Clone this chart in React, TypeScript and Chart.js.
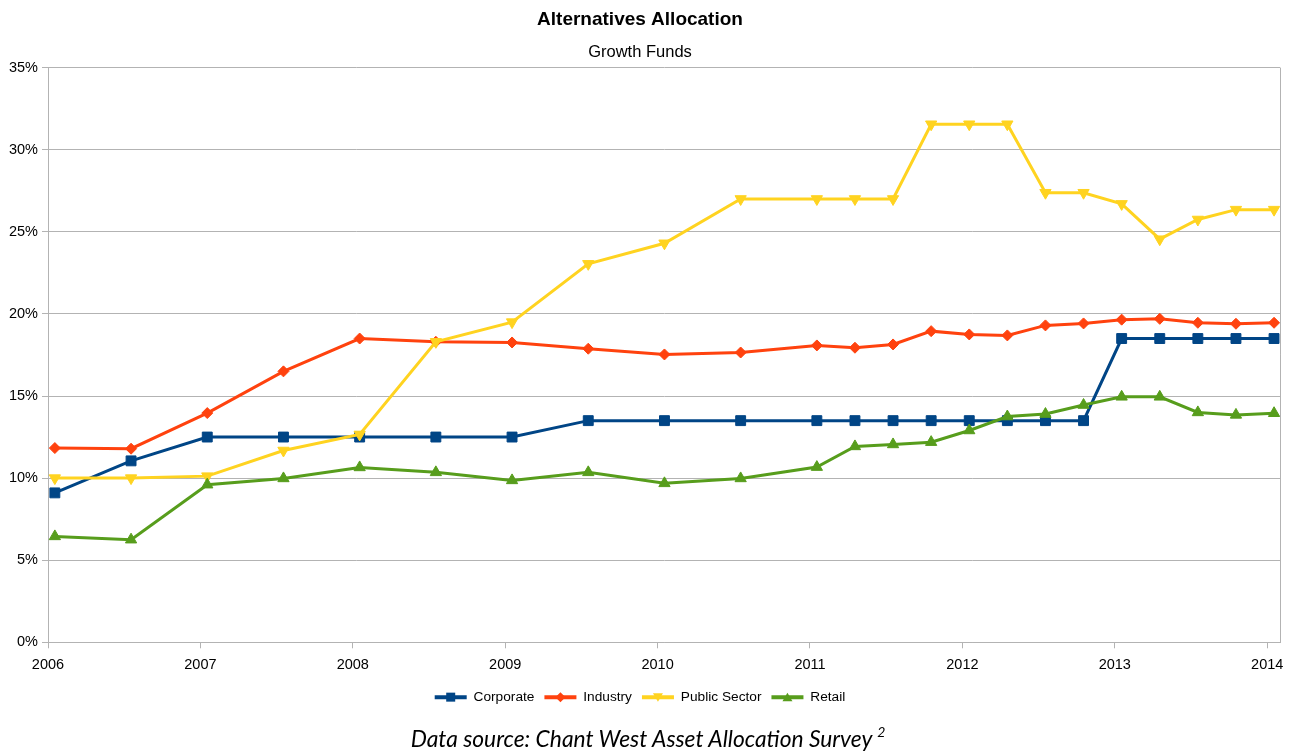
import React, { useEffect, useRef } from 'react';
import { Chart, registerables } from 'chart.js';

Chart.register(...registerables);

const seriesNames = ['Corporate', 'Industry', 'Public Sector', 'Retail'];
const seriesColors = ['#004586', '#ff420e', '#ffd320', '#579d1c'];
const yearTicks = [2006, 2007, 2008, 2009, 2010, 2011, 2012, 2013, 2014];

const surveyDates = [
  2006.045, 2006.545, 2007.045, 2007.545, 2008.045, 2008.545, 2009.045, 2009.545,
  2010.045, 2010.545, 2011.045, 2011.295, 2011.545, 2011.795, 2012.045, 2012.295,
  2012.545, 2012.795, 2013.045, 2013.295, 2013.545, 2013.795, 2014.045,
];
const corporate = [
  9.1, 11.05, 12.5, 12.5, 12.5, 12.5, 12.5, 13.5, 13.5, 13.5, 13.5, 13.5,
  13.5, 13.5, 13.5, 13.5, 13.5, 13.5, 18.5, 18.5, 18.5, 18.5, 18.5,
];
const industry = [
  11.83, 11.79, 13.96, 16.5, 18.5, 18.3, 18.26, 17.88, 17.53, 17.65, 18.08, 17.94,
  18.14, 18.95, 18.75, 18.69, 19.3, 19.42, 19.65, 19.7, 19.46, 19.4, 19.46,
];
const publicSector = [
  10.0, 10.0, 10.12, 11.68, 12.66, 18.3, 19.5, 23.05, 24.3, 27.0, 27.0, 27.0,
  27.0, 31.55, 31.55, 31.55, 27.38, 27.38, 26.7, 24.55, 25.75, 26.35, 26.35,
];
const retail = [
  6.45, 6.25, 9.6, 9.98, 10.65, 10.35, 9.86, 10.35, 9.68, 9.98, 10.67, 11.93,
  12.05, 12.19, 12.9, 13.75, 13.9, 14.45, 14.95, 14.95, 14.0, 13.85, 13.95,
];

const FONT = "'Liberation Sans', Arial, sans-serif";
const GRID = '#b3b3b3';
const LEGEND_BOX_W = 32;

function drawMarker(ctx: CanvasRenderingContext2D, kind: number, x: number, y: number, color: string) {
  ctx.save();
  ctx.fillStyle = color;
  ctx.beginPath();
  if (kind === 0) {
    ctx.rect(x - 4.5, y - 4.5, 9, 9);
  } else if (kind === 1) {
    ctx.moveTo(x, y - 5);
    ctx.lineTo(x + 5, y);
    ctx.lineTo(x, y + 5);
    ctx.lineTo(x - 5, y);
    ctx.closePath();
  } else if (kind === 2) {
    ctx.moveTo(x - 5, y - 4);
    ctx.lineTo(x + 5, y - 4);
    ctx.lineTo(x, y + 4.5);
    ctx.closePath();
  } else {
    ctx.moveTo(x - 5, y + 4);
    ctx.lineTo(x + 5, y + 4);
    ctx.lineTo(x, y - 4.5);
    ctx.closePath();
  }
  ctx.fill();
  ctx.restore();
}

const frameAndLegendPlugin = {
  id: 'frameAndLegend',
  beforeDatasetsDraw(chart: any) {
    const { ctx, chartArea } = chart;
    ctx.save();
    ctx.strokeStyle = GRID;
    ctx.lineWidth = 1;
    ctx.beginPath();
    ctx.moveTo(Math.round(chartArea.right) + 0.5, chartArea.top);
    ctx.lineTo(Math.round(chartArea.right) + 0.5, chartArea.bottom);
    ctx.stroke();
    ctx.restore();
  },
  afterDraw(chart: any) {
    const legend = chart.legend;
    if (!legend || !legend.legendHitBoxes || !legend.legendItems) return;
    legend.legendItems.forEach((item: any, i: number) => {
      const hb = legend.legendHitBoxes[i];
      if (!hb) return;
      const idx = item.datasetIndex;
      drawMarker(chart.ctx, idx, hb.left + LEGEND_BOX_W / 2, hb.top + hb.height / 2, seriesColors[idx]);
    });
  },
};

export default function App() {
  const canvasRef = useRef<HTMLCanvasElement | null>(null);

  useEffect(() => {
    const canvas = canvasRef.current;
    if (!canvas) return;
    const valueSets = [corporate, industry, publicSector, retail];
    const pointStyles: any[] = ['rect', 'rectRot', 'triangle', 'triangle'];
    const pointRotations = [0, 0, 180, 0];
    const pointRadii = [7, 5.5, 6.5, 6.5];
    const datasets = seriesNames.map((name, i) => ({
      label: name,
      data: surveyDates.map((d, j) => ({ x: d, y: valueSets[i][j] })),
      borderColor: seriesColors[i],
      backgroundColor: seriesColors[i],
      pointBackgroundColor: seriesColors[i],
      pointBorderColor: seriesColors[i],
      pointBorderWidth: 1,
      borderWidth: 3,
      pointStyle: pointStyles[i],
      rotation: pointRotations[i],
      pointRadius: pointRadii[i],
      tension: 0,
      order: 4 - i,
    }));

    const chart = new Chart(canvas, {
      type: 'line',
      data: { datasets },
      plugins: [frameAndLegendPlugin],
      options: {
        responsive: false,
        animation: false,
        layout: { padding: { left: 0, right: 20, top: 0, bottom: 37 } },
        plugins: {
          title: {
            display: true,
            text: 'Alternatives Allocation',
            color: '#000',
            font: { family: FONT, size: 19, weight: 'bold' },
            padding: { top: 8, bottom: 0 },
          },
          subtitle: {
            display: true,
            text: 'Growth Funds',
            color: '#000',
            font: { family: FONT, size: 16.5 },
            padding: { top: 12, bottom: 5 },
          },
          legend: {
            position: 'bottom',
            labels: {
              boxWidth: LEGEND_BOX_W,
              boxHeight: 4,
              color: '#000',
              padding: 10,
              font: { family: FONT, size: 13.7 },
              sort: (a: any, b: any) => a.datasetIndex - b.datasetIndex,
              generateLabels: (c: any) =>
                (Chart.defaults.plugins.legend.labels.generateLabels as any)(c).map((l: any) => ({
                  ...l,
                  lineWidth: 0,
                  fillStyle: seriesColors[l.datasetIndex],
                })),
            },
          },
          tooltip: { enabled: false },
        },
        scales: {
          x: {
            type: 'linear',
            min: 2006,
            max: 2014.084,
            afterBuildTicks: (scale: any) => {
              scale.ticks = yearTicks.map((v) => ({ value: v }));
            },
            afterFit: (scale: any) => {
              scale.height = 38;
            },
            ticks: {
              color: '#000',
              font: { family: FONT, size: 14.5 },
              padding: 7.5,
              maxRotation: 0,
              autoSkip: false,
              callback: (v: any) => String(v),
            },
            grid: { display: true, drawOnChartArea: false, tickLength: 6, color: GRID },
            border: { color: GRID },
          },
          y: {
            min: 0,
            max: 35,
            ticks: {
              stepSize: 5,
              color: '#000',
              font: { family: FONT, size: 14.5 },
              padding: 4,
              callback: (v: any) => v + '%',
            },
            grid: { color: GRID, tickLength: 6 },
            border: { color: GRID },
            afterFit: (scale: any) => {
              scale.width = 48;
            },
          },
        },
      } as any,
    });
    return () => chart.destroy();
  }, []);

  return (
    <div style={{ position: 'absolute', left: 0, top: 0, width: 1300, height: 751, background: '#fff' }}>
      <canvas ref={canvasRef} width={1300} height={751} style={{ display: 'block' }} />
      <div
        style={{
          position: 'absolute',
          left: 0,
          top: 724,
          width: 1296,
          textAlign: 'center',
          fontFamily: 'Lato, sans-serif',
          fontStyle: 'italic',
          fontSize: 22.8,
          lineHeight: '28px',
          color: '#000',
          whiteSpace: 'nowrap',
        }}
      >
        Data source: Chant West Asset Allocation Survey{' '}
        <span style={{ fontSize: 14, position: 'relative', top: -10 }}>2</span>
      </div>
    </div>
  );
}
